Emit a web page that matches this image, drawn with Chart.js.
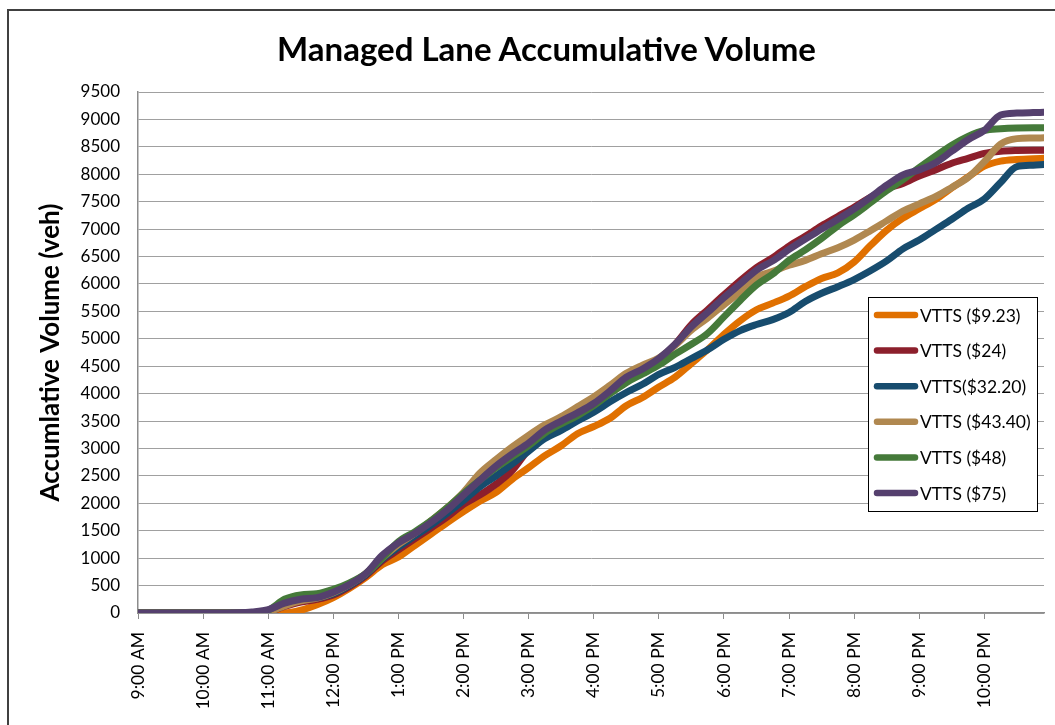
<!DOCTYPE html>
<html>
<head>
<meta charset="utf-8">
<script src="https://cdn.jsdelivr.net/npm/chart.js@4.4.1/dist/chart.umd.min.js"></script>
<style>
  html, body { margin: 0; padding: 0; background: #fff; }
  #wrap { position: relative; width: 1055px; height: 725px; overflow: hidden; }
  #frame { position: absolute; left: 7px; top: 9px; width: 1100px; height: 800px; border: 2px solid #404040; box-sizing: border-box; }
  #title { position: absolute; left: 0; width: 1093px; top: 28px; text-align: center; font: bold 33px Lato; line-height: 40px; color: #000; z-index: 2; }
  canvas { position: absolute; left: 0; top: 0; }
</style>
</head>
<body>
<div id="wrap">
  <div id="frame"></div>
  <canvas id="volumeChart" width="1055" height="725"></canvas>
  <div id="title">Managed Lane Accumulative Volume</div>
</div>
<script>
// minutes after 9:00 AM
const times = [0,15,30,45,60,75,90,105,120,135,150,165,180,195,210,225,240,255,270,285,300,315,330,345,360,375,390,405,420,435,450,465,480,495,510,525,540,555,570,585,600,615,630,645,660,675,690,705,720,735,750,765,780,795,810,825,835];

// hourly tick labels
const hourLabels = ['9:00 AM','10:00 AM','11:00 AM','12:00 PM','1:00 PM','2:00 PM','3:00 PM','4:00 PM','5:00 PM','6:00 PM','7:00 PM','8:00 PM','9:00 PM','10:00 PM'];

const seriesNames = ['VTTS ($9.23)', 'VTTS ($24)', 'VTTS($32.20)', 'VTTS ($43.40)', 'VTTS ($48)', 'VTTS ($75)'];

const vtts923 = [0,0,0,0,0,0,0,0,0,0,50,150,280,450,650,880,1020,1230,1440,1650,1850,2040,2200,2440,2650,2870,3050,3270,3400,3550,3780,3930,4120,4300,4550,4800,5080,5330,5530,5650,5780,5950,6100,6200,6400,6700,6980,7200,7370,7540,7750,7950,8150,8240,8270,8285,8290];
const vtts24 = [0,0,0,0,0,0,0,0,20,120,200,250,330,480,680,950,1150,1350,1550,1750,1980,2150,2350,2600,2980,3250,3470,3620,3790,4020,4270,4420,4620,4900,5260,5530,5800,6060,6300,6480,6690,6870,7060,7230,7400,7580,7740,7830,7970,8080,8200,8290,8380,8420,8435,8440,8440];
const vtts3220 = [0,0,0,0,0,0,0,0,20,150,230,270,350,500,700,980,1200,1400,1600,1820,2050,2300,2500,2720,2950,3180,3330,3500,3660,3850,4020,4170,4350,4480,4640,4800,4990,5150,5260,5350,5480,5680,5830,5950,6080,6240,6420,6640,6800,6990,7180,7380,7550,7850,8140,8165,8180];
const vtts4340 = [0,0,0,0,0,0,0,0,20,130,220,270,370,520,720,1000,1250,1450,1680,1920,2200,2550,2800,3030,3240,3430,3580,3760,3940,4150,4370,4520,4650,4880,5160,5380,5620,5850,6120,6230,6340,6430,6550,6660,6800,6970,7150,7330,7460,7590,7760,7940,8230,8550,8650,8660,8665];
const vtts48 = [0,0,0,0,0,0,0,0,50,250,330,350,430,550,720,1000,1300,1480,1680,1920,2180,2420,2650,2850,3050,3280,3450,3600,3780,4000,4200,4360,4520,4720,4900,5100,5400,5700,5980,6180,6430,6620,6830,7060,7260,7480,7700,7900,8120,8330,8530,8690,8800,8830,8845,8850,8850];
const vtts75 = [0,0,0,0,0,0,5,20,60,180,250,280,380,520,720,1050,1280,1450,1650,1880,2150,2420,2680,2900,3100,3340,3500,3650,3820,4050,4300,4450,4640,4900,5220,5480,5750,6000,6250,6420,6630,6820,7000,7180,7370,7580,7800,7990,8080,8210,8420,8630,8800,9080,9115,9125,9130];

const seriesValues = [vtts923, vtts24, vtts3220, vtts4340, vtts48, vtts75];
const seriesColors = ['#e07000', '#8c1f2c', '#174c6e', '#b08850', '#457a3a', '#55406e'];

function toPoints(values) {
  return values.map((v, i) => ({ x: times[i], y: v }));
}

// legend drawn inside the plot, like the Excel one
const boxLegend = {
  id: 'boxLegend',
  afterDraw(chart) {
    const ctx = chart.ctx;
    const left = 868, top = 297, w = 169, h = 214;
    ctx.save();
    ctx.fillStyle = '#fff';
    ctx.fillRect(left, top, w, h);
    ctx.strokeStyle = '#000';
    ctx.lineWidth = 1;
    ctx.strokeRect(left + 0.5, top + 0.5, w, h);
    ctx.font = '17.5px Lato';
    ctx.textBaseline = 'middle';
    chart.data.datasets.forEach((ds, i) => {
      const y = top + 18 + i * 35.6;
      ctx.strokeStyle = ds.borderColor;
      ctx.lineWidth = 6.5;
      ctx.lineCap = 'round';
      ctx.beginPath();
      ctx.moveTo(877, y);
      ctx.lineTo(915, y);
      ctx.stroke();
      ctx.fillStyle = '#000';
      ctx.fillText(ds.label, 920, y + 1);
    });
    ctx.restore();
  }
};

Chart.defaults.font.family = 'Lato';
Chart.defaults.color = '#000';

new Chart(document.getElementById('volumeChart').getContext('2d'), {
  type: 'line',
  data: {
    datasets: seriesNames.map((name, i) => ({
      label: name,
      data: toPoints(seriesValues[i]),
      borderColor: seriesColors[i],
      backgroundColor: seriesColors[i],
      borderWidth: 7,
      borderCapStyle: 'round',
      borderJoinStyle: 'round',
      pointRadius: 0,
      cubicInterpolationMode: 'monotone',
      order: seriesNames.length - 1 - i  // last series drawn on top
    }))
  },
  options: {
    responsive: false,
    animation: false,
    layout: { padding: { top: 92, right: 11, left: 0, bottom: 0 } },
    plugins: {
      legend: { display: false },
      tooltip: { enabled: false },
      title: { display: false }
    },
    scales: {
      x: {
        type: 'linear',
        min: 0,
        max: 835,
        afterFit: (scale) => { scale.height = 112; },
        grid: { drawOnChartArea: false, drawTicks: true, tickLength: 6, color: '#8c8c8c' },
        border: { color: '#8c8c8c', width: 1.5 },
        ticks: {
          stepSize: 60,
          includeBounds: false,
          autoSkip: false,
          minRotation: 90,
          maxRotation: 90,
          padding: 13,
          font: { size: 17.5 },
          callback: (v) => hourLabels[v / 60]
        }
      },
      y: {
        min: 0,
        max: 9500,
        afterFit: (scale) => { scale.width = 138; },
        grid: { color: '#a0a0a0', drawTicks: false },
        border: { color: '#8c8c8c', width: 1.5 },
        ticks: { stepSize: 500, padding: 18, font: { size: 17 }, callback: (v) => String(v) },
        title: {
          display: true,
          text: 'Accumlative Volume (veh)',
          font: { size: 26, weight: 'bold' },
          padding: { top: 35, bottom: 0 }
        }
      }
    }
  },
  plugins: [boxLegend]
});
</script>
</body>
</html>
